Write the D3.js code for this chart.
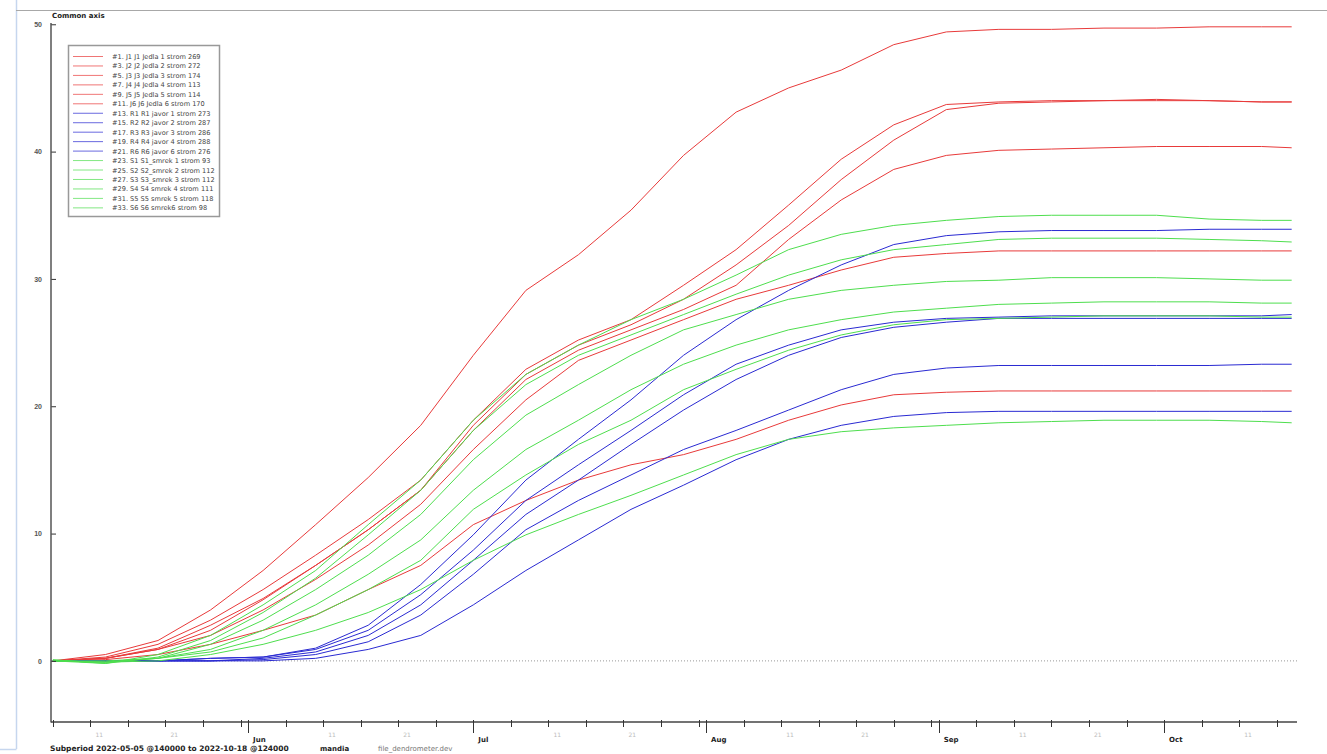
<!DOCTYPE html>
<html>
<head>
<meta charset="utf-8">
<script src="https://cdn.jsdelivr.net/npm/d3@7"></script>
<style>
  body { margin:0; background:#fff; }
  svg { display:block; font-family:"DejaVu Sans", Verdana, sans-serif; }
</style>
</head>
<body>
<svg id="chart" width="1327" height="754"></svg>
<script>
// weekly sample dates (2022)
const dates = ["2022-05-06","2022-05-13","2022-05-20","2022-05-27","2022-06-03","2022-06-10","2022-06-17",
  "2022-06-24","2022-07-01","2022-07-08","2022-07-15","2022-07-22","2022-07-29","2022-08-05","2022-08-12",
  "2022-08-19","2022-08-26","2022-09-02","2022-09-09","2022-09-16","2022-09-23","2022-09-30","2022-10-07",
  "2022-10-14","2022-10-18"];

// jedla (red)
const J1 = [0,0.5,1.6,4.0,7.1,10.7,14.4,18.5,24.0,29.1,31.9,35.4,39.7,43.1,45.0,46.4,48.4,49.4,49.6,49.6,49.7,49.7,49.8,49.8,49.8];
const J2 = [0,0.3,1.3,3.2,5.6,8.3,11.1,14.2,18.9,22.9,25.2,26.8,29.5,32.3,35.8,39.4,42.1,43.7,43.9,44.0,44.0,44.1,44.0,43.9,43.9];
const J3 = [0,0.2,1.0,2.8,4.9,7.5,10.3,13.4,18.5,22.5,24.8,26.4,28.4,31.1,34.2,37.8,40.9,43.3,43.8,43.9,44.0,44.0,44.0,43.9,43.9];
const J4 = [0,0.2,0.9,2.4,4.8,7.5,10.3,13.4,18.1,22.1,24.4,26.0,27.6,29.5,33.1,36.2,38.6,39.7,40.1,40.2,40.3,40.4,40.4,40.4,40.3];
const J5 = [0,0.2,0.9,2.0,4.0,6.4,9.1,12.3,16.6,20.5,23.6,25.2,26.8,28.4,29.5,30.7,31.7,32.0,32.2,32.2,32.2,32.2,32.2,32.2,32.2];
const J6 = [0,0.1,0.5,1.3,2.4,3.6,5.6,7.5,10.7,12.6,14.2,15.4,16.2,17.4,18.9,20.1,20.9,21.1,21.2,21.2,21.2,21.2,21.2,21.2,21.2];
// javor (blue)
const R1 = [0,0,0,0.2,0.3,1.0,2.8,6.0,9.9,14.2,17.4,20.5,24.0,26.8,29.1,31.1,32.7,33.4,33.7,33.8,33.8,33.8,33.9,33.9,33.9];
const R2 = [0,0,0,0.2,0.3,0.9,2.4,5.2,8.7,12.6,15.4,18.1,20.9,23.3,24.8,26.0,26.6,26.9,27.0,27.1,27.1,27.1,27.1,27.1,27.2];
const R3 = [0,0,0,0,0.2,0.7,2.0,4.4,7.9,11.5,14.2,17.0,19.7,22.1,24.0,25.4,26.2,26.6,26.9,26.9,26.9,26.9,26.9,26.9,26.9];
const R4 = [0,0,0,0,0.1,0.5,1.5,3.6,6.8,10.3,12.6,14.6,16.6,18.1,19.7,21.3,22.5,23.0,23.2,23.2,23.2,23.2,23.2,23.3,23.3];
const R6 = [0,0,0,0,0,0.2,0.9,2.0,4.4,7.1,9.5,11.9,13.8,15.8,17.4,18.5,19.2,19.5,19.6,19.6,19.6,19.6,19.6,19.6,19.6];
// smrek (green)
const S1 = [0.1,-0.2,0.5,2.0,4.4,7.1,10.7,14.2,18.9,22.5,24.8,26.8,28.4,30.3,32.3,33.5,34.2,34.6,34.9,35.0,35.0,35.0,34.7,34.6,34.6];
const S2 = [0,-0.2,0.3,1.6,3.8,6.5,9.9,13.4,18.1,21.7,24.0,25.6,27.2,28.8,30.3,31.5,32.3,32.7,33.1,33.2,33.2,33.2,33.1,33.0,32.9];
const S3 = [0,-0.1,0.2,1.3,3.2,5.6,8.3,11.5,15.8,19.3,21.7,24.0,26.0,27.2,28.4,29.1,29.5,29.8,29.9,30.1,30.1,30.1,30.0,29.9,29.9];
const S4 = [0,-0.1,0.2,0.9,2.4,4.4,6.8,9.5,13.4,16.6,18.9,21.3,23.3,24.8,26.0,26.8,27.4,27.7,28.0,28.1,28.2,28.2,28.2,28.1,28.1];
const S5 = [0,0,0.2,0.7,1.8,3.6,5.6,7.9,11.9,14.6,17.0,18.9,21.3,22.9,24.4,25.6,26.4,26.8,26.9,27.0,27.1,27.1,27.1,27.0,27.0];
const S6 = [0,-0.1,0,0.5,1.3,2.4,3.8,5.6,7.9,9.9,11.5,13.0,14.6,16.2,17.4,18.0,18.3,18.5,18.7,18.8,18.9,18.9,18.9,18.8,18.7];

const seriesValues = [J1,J2,J3,J4,J5,J6,R1,R2,R3,R4,R6,S1,S2,S3,S4,S5,S6];
const seriesGroups = ["J","J","J","J","J","J","R","R","R","R","R","S","S","S","S","S","S"];
const seriesNames = [
  "#1.  J1 J1 Jedla 1 strom 269", "#3.  J2 J2 Jedla 2 strom 272", "#5.  J3 J3 Jedla 3 strom 174",
  "#7.  J4 J4 Jedla 4 strom 113", "#9.  J5 J5 Jedla 5 strom 114", "#11.  J6 J6 Jedla 6 strom 170",
  "#13. R1 R1 javor 1 strom 273", "#15. R2 R2 javor 2 strom 287", "#17. R3 R3 javor 3 strom 286",
  "#19. R4 R4 javor 4 strom 288", "#21. R6 R6 javor 6 strom 276",
  "#23. S1 S1_smrek 1 strom 93", "#25. S2 S2_smrek 2 strom 112", "#27. S3 S3_smrek 3 strom 112",
  "#29. S4 S4 smrek 4 strom 111", "#31. S5 S5 smrek 5 strom 118", "#33. S6 S6 smrek6 strom 98"];

const yTicks = [0,10,20,30,40,50];
const monthNames = ["Jan","Feb","Mar","Apr","May","Jun","Jul","Aug","Sep","Oct","Nov","Dec"];
const tickDays = [1,6,11,16,21,26,31];
const labelDays = [11,21];

const colorByGroup = d3.scaleOrdinal()
  .domain(["J","R","S"])
  .range(["#e83a3a", "#2a2ad2", "#4ede4e"]);

const svg = d3.select("#chart");
const margin = {left:51, right:1297, top:23, bottom:722};

const parse = d3.timeParse("%Y-%m-%d");
const x = d3.scaleTime()
  .domain([new Date(2022,4,5,18), new Date(2022,9,18,17)])
  .range([margin.left, margin.right]);
const y = d3.scaleLinear()
  .domain([-4.8, 50.1])
  .range([margin.bottom, margin.top]);

// panel frame
svg.append("line").attr("x1",16.5).attr("x2",16.5).attr("y1",0).attr("y2",749)
  .attr("stroke","#c6d6ee").attr("stroke-width",1.5);
svg.append("line").attr("x1",0).attr("x2",16.5).attr("y1",749.5).attr("y2",749.5)
  .attr("stroke","#c6d6ee").attr("stroke-width",1.5);
svg.append("line").attr("x1",16).attr("x2",1327).attr("y1",10.5).attr("y2",10.5)
  .attr("stroke","#a8a8a8").attr("stroke-width",1);

svg.append("text").attr("x",52).attr("y",18)
  .style("font-size","7px").style("font-weight","bold").attr("fill","#222")
  .text("Common axis");

// zero line
svg.append("line")
  .attr("x1",margin.left).attr("x2",margin.right)
  .attr("y1",y(0)).attr("y2",y(0))
  .attr("stroke","#999").attr("stroke-dasharray","1,2");

// lines
const line = d3.line()
  .x((d,i) => x(parse(dates[i])))
  .y(d => y(d));

svg.append("g").attr("fill","none")
  .selectAll("path")
  .data(seriesValues.map((v,i) => ({v, g:seriesGroups[i]})))
  .join("path")
  .attr("d", d => line(d.v))
  .attr("stroke", d => colorByGroup(d.g))
  .attr("stroke-width", 1);

// y axis
const yAxis = svg.append("g").attr("transform",`translate(${margin.left},0)`)
  .call(d3.axisRight(y).tickValues(yTicks).tickSize(5).tickFormat(d3.format("d")));
yAxis.select(".domain").remove();
yAxis.selectAll("text").attr("x",-9).attr("text-anchor","end")
  .style("font-size","7px").style("font-weight","bold").attr("fill","#555");
yAxis.selectAll("line").attr("stroke","#333");
svg.append("line").attr("x1",margin.left).attr("x2",margin.left)
  .attr("y1",margin.top).attr("y2",margin.bottom+0.5)
  .attr("stroke","#555").attr("stroke-width",1.5);

// x axis
const [d0, d1] = x.domain();
const xTicks = [];
for (let m = 4; m <= 9; m++) {
  for (const day of tickDays) {
    const dt = new Date(2022, m, day);
    if (dt.getMonth() !== m) continue;
    if (dt >= d0 && dt <= d1) xTicks.push(dt);
  }
}
svg.append("line").attr("x1",margin.left).attr("x2",margin.right)
  .attr("y1",margin.bottom).attr("y2",margin.bottom)
  .attr("stroke","#444").attr("stroke-width",1.5);

const xg = svg.append("g");
xg.selectAll("line.tick")
  .data(xTicks)
  .join("line")
  .attr("x1", d => Math.round(x(d)) + 0.5).attr("x2", d => Math.round(x(d)) + 0.5)
  .attr("y1", margin.bottom - 2)
  .attr("y2", d => margin.bottom + (d.getDate() === 1 ? 11 : 5))
  .attr("stroke","#333").attr("stroke-width",1);

xg.selectAll("text.day")
  .data(xTicks.filter(d => labelDays.includes(d.getDate())))
  .join("text")
  .attr("x", d => x(d) + 5).attr("y", margin.bottom + 15)
  .style("font-size","6px").attr("fill","#bbb")
  .text(d => d.getDate());

xg.selectAll("text.month")
  .data(xTicks.filter(d => d.getDate() === 1))
  .join("text")
  .attr("x", d => x(d) + 5).attr("y", margin.bottom + 20)
  .style("font-size","7px").style("font-weight","bold").attr("fill","#222")
  .text(d => monthNames[d.getMonth()]);

svg.append("text").attr("x",50).attr("y",751)
  .style("font-size","7.5px").style("font-weight","bold").attr("fill","#222")
  .text("Subperiod 2022-05-05 @140000  to  2022-10-18 @124000");
svg.append("text").attr("x",320).attr("y",751)
  .style("font-size","7px").style("font-weight","bold").attr("fill","#222")
  .text("mandia");
svg.append("text").attr("x",378).attr("y",751)
  .style("font-size","7px").attr("fill","#777")
  .text("file_dendrometer.dev");

// legend
const lg = svg.append("g");
lg.append("rect").attr("x",68.5).attr("y",45.5).attr("width",151).attr("height",171)
  .attr("fill","#fff").attr("stroke","#999").attr("stroke-width",1.5);
const rows = lg.selectAll("g.row")
  .data(seriesNames.map((n,i) => ({n, g:seriesGroups[i]})))
  .join("g")
  .attr("transform", (d,i) => `translate(0,${56.5 + i*9.46})`);
rows.append("line").attr("x1",73).attr("x2",103)
  .attr("stroke", d => colorByGroup(d.g)).attr("stroke-opacity",0.7);
rows.append("text").attr("x",112).attr("y",2.5)
  .style("font-size","6.6px").attr("fill","#444")
  .text(d => d.n);
</script>
</body>
</html>
